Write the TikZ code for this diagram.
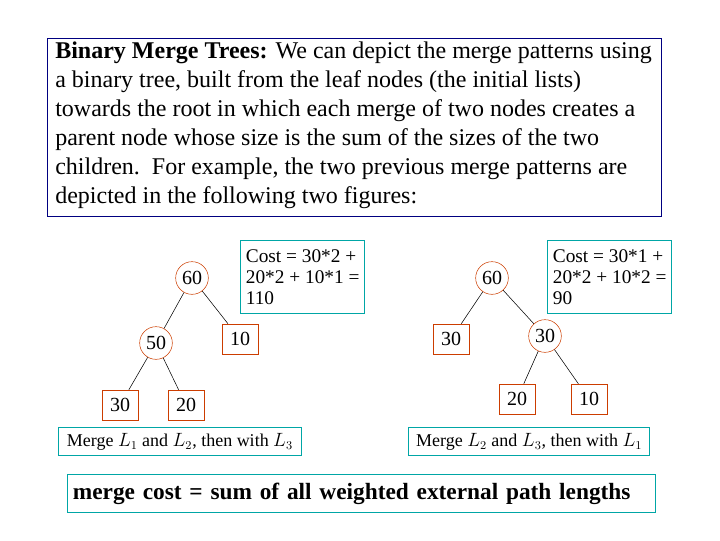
\documentclass[tikz,border=0pt]{standalone}
\usepackage{fontspec}
\setmainfont{Liberation Serif}
\begin{document}
\begin{tikzpicture}[x=0.75pt,y=-0.75pt,
  cir/.style={circle,draw=orange!60!red!80!black,minimum size=24.5pt,inner sep=0pt,font=\fontsize{15}{16}\selectfont},
  leaf/.style={draw=orange!60!red!80!black,minimum width=27pt,minimum height=22.5pt,inner sep=0pt,font=\fontsize{15}{16}\selectfont},
  tbox/.style={draw=teal!70!cyan,thick,align=left,anchor=north west,inner sep=4pt},
  edge/.style={black,thin}]
\useasboundingbox (0,0) rectangle (720,540);
\node[draw=blue!50!black,thick,minimum width=460.5pt,minimum height=133.5pt,anchor=north west] (top) at (47,38) {};
\node[anchor=north west,align=left,font=\fontsize{18}{21.75}\selectfont,inner sep=0pt] (tt) at (55,42) {\textbf{Binary Merge Trees:} We can depict the merge patterns using\\a binary tree, built from the leaf nodes (the initial lists)\\towards the root in which each merge of two nodes creates a\\parent node whose size is the sum of the sizes of the two\\children.\ \ For example, the two previous merge patterns are\\depicted in the following two figures:};
% left tree
\node[cir] (l60) at (192,278) {60};
\node[cir] (l50) at (156,343) {50};
\node[leaf] (l10) at (240,339) {10};
\node[leaf] (l30) at (120,405) {30};
\node[leaf] (l20) at (186,405) {20};
\draw[edge] (l60)--(l50); \draw[edge] (l60)--(l10);
\draw[edge] (l50)--(l30); \draw[edge] (l50)--(l20);
\node[tbox,font=\fontsize{14.5}{15.75}\selectfont,minimum width=90pt,minimum height=55pt] (lc) at (240,240) {Cost = 30*2 +\\20*2 + 10*1 =\\110};
\node[tbox,font=\fontsize{13.5}{15}\selectfont,minimum width=182pt,minimum height=21pt,align=center,inner sep=2pt] (lm) at (58,427) {Merge $L_1$ and $L_2$, then with $L_3$};
% right tree
\node[cir] (r60) at (492,278) {60};
\node[cir] (r30) at (545,336) {30};
\node[leaf] (r30l) at (451,339) {30};
\node[leaf] (r20) at (517,399) {20};
\node[leaf] (r10) at (589,399) {10};
\draw[edge] (r60)--(r30l); \draw[edge] (r60)--(r30);
\draw[edge] (r30)--(r20); \draw[edge] (r30)--(r10);
\node[tbox,font=\fontsize{14.5}{15.75}\selectfont,minimum width=90pt,minimum height=55pt] (rc) at (547,240) {Cost = 30*1 +\\20*2 + 10*2 =\\90};
\node[tbox,font=\fontsize{13.5}{15}\selectfont,minimum width=181pt,minimum height=21pt,align=center,inner sep=2pt] (rm) at (408,427) {Merge $L_2$ and $L_3$, then with $L_1$};
\node[tbox,font=\fontsize{17.5}{20}\selectfont\bfseries,text width=433pt,minimum height=28.5pt] (bot) at (67,474) {merge cost = sum of all weighted external path lengths};
\end{tikzpicture}
\end{document}
